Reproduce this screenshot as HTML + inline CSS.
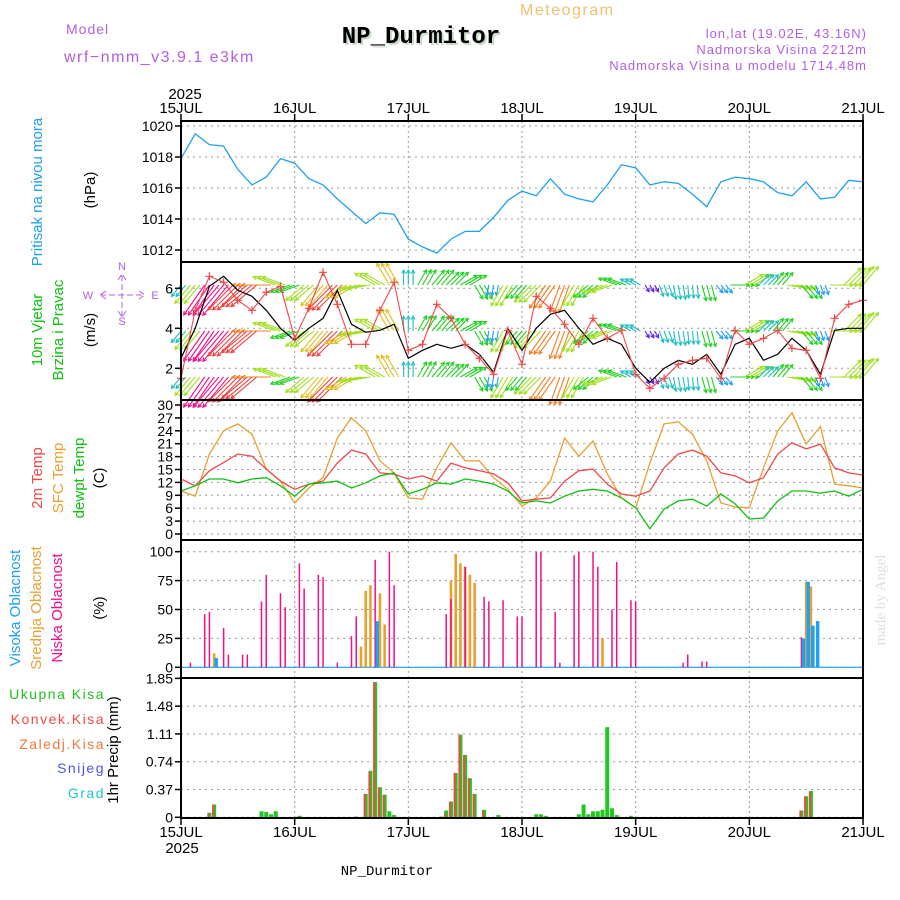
<!DOCTYPE html>
<html><head><meta charset="utf-8"><style>
html,body{margin:0;padding:0;background:#fff;}
svg{display:block;font-family:"Liberation Sans",sans-serif;}
</style></head><body>
<svg id="chart" width="900" height="900" viewBox="0 0 900 900" xmlns="http://www.w3.org/2000/svg">
<text x="520" y="15" fill="#f0c070" font-size="16" letter-spacing="1.5">Meteogram</text>
<text x="66" y="34" fill="#b060e0" font-size="14" letter-spacing="1">Model</text>
<text x="64" y="62" fill="#b060e0" font-size="16" letter-spacing="1.5">wrf−nmm_v3.9.1 e3km</text>
<text x="423" y="45" fill="#c8dcc8" font-size="24" font-weight="bold" text-anchor="middle" font-family="Liberation Mono,monospace">NP_Durmitor</text>
<text x="421" y="43" fill="#000" font-size="24" font-weight="bold" text-anchor="middle" font-family="Liberation Mono,monospace">NP_Durmitor</text>
<g fill="#b060e0" font-size="13" text-anchor="end" letter-spacing="1">
<text x="867" y="38">lon,lat (19.02E, 43.16N)</text>
<text x="867" y="54">Nadmorska Visina 2212m</text>
<text x="867" y="70">Nadmorska Visina u modelu 1714.48m</text>
</g>
<text x="387" y="875" font-size="14" font-family="Liberation Mono,monospace" fill="#000" text-anchor="middle">NP_Durmitor</text>
<text x="885" y="600" fill="#d8e4d8" font-size="15" font-family="Liberation Serif,serif" text-anchor="middle" transform="rotate(-90 885 600)">made by Angel</text>

<g font-size="15" text-anchor="middle">
<text x="42" y="192" fill="#20a0f0" transform="rotate(-90 42 192)">Pritisak na nivou mora</text>
<text x="95" y="190" fill="#000" transform="rotate(-90 95 190)">(hPa)</text>
<text x="42" y="330" fill="#10c010" transform="rotate(-90 42 330)">10m Vjetar</text>
<text x="63" y="330" fill="#10c010" transform="rotate(-90 63 330)">Brzina i Pravac</text>
<text x="95" y="330" fill="#000" transform="rotate(-90 95 330)">(m/s)</text>
<text x="42" y="478" fill="#f04848" transform="rotate(-90 42 478)">2m Temp</text>
<text x="63" y="478" fill="#e8a030" transform="rotate(-90 63 478)">SFC Temp</text>
<text x="84" y="478" fill="#10c010" transform="rotate(-90 84 478)">dewpt Temp</text>
<text x="104" y="478" fill="#000" transform="rotate(-90 104 478)">(C)</text>
<text x="20" y="608" fill="#20a0f0" transform="rotate(-90 20 608)">Visoka Oblacnost</text>
<text x="41" y="608" fill="#e8a030" transform="rotate(-90 41 608)">Srednja Oblacnost</text>
<text x="62" y="608" fill="#f0108a" transform="rotate(-90 62 608)">Niska Oblacnost</text>
<text x="104" y="608" fill="#000" transform="rotate(-90 104 608)">(%)</text>
<text x="118" y="750" fill="#000" transform="rotate(-90 118 750)">1hr Precip (mm)</text>
</g>
<g font-size="14" text-anchor="end" letter-spacing="1.5">
<text x="105" y="699" fill="#20c020">Ukupna Kisa</text>
<text x="105" y="724" fill="#f04848">Konvek.Kisa</text>
<text x="105" y="749" fill="#f07838">Zaledj.Kisa</text>
<text x="105" y="773" fill="#5050f0">Snijeg</text>
<text x="105" y="798" fill="#20c8c8">Grad</text>
</g>
<g fill="#b060e0" font-size="11" text-anchor="middle">
<text x="122" y="270">N</text><text x="122" y="325">S</text><text x="88" y="299">W</text><text x="155" y="299">E</text>
<path d="M122 275 V317 M100 295 H145 M118 280 L122 274 L126 280 M118 311 L122 317 L126 311 M106 291 L100 295 L106 299 M139 291 L145 295 L139 299" stroke="#b060e0" stroke-width="1" fill="none" stroke-dasharray="6 3"/>
</g>
<g id="grid"></g>
<g id="marks"></g>
<g id="frames"></g>
<g id="axes"></g>
</svg>
<script>
// ---- data (3-hourly from 15JUL 00 to 21JUL 00) ----
const dayLabels = ["15JUL","16JUL","17JUL","18JUL","19JUL","20JUL","21JUL"];
const pressure = [1017.9,1019.5,1018.8,1018.7,1017.2,1016.2,1016.7,1017.9,1017.6,1016.6,1016.2,1015.3,1014.5,1013.7,1014.4,1014.3,1012.7,1012.2,1011.8,1012.7,1013.2,1013.2,1014.1,1015.2,1015.8,1015.5,1016.6,1015.6,1015.3,1015.1,1016.2,1017.5,1017.3,1016.2,1016.4,1016.3,1015.6,1014.8,1016.4,1016.7,1016.6,1016.4,1015.7,1015.5,1016.4,1015.3,1015.4,1016.5,1016.4];
const windSpeed = [2.5,4,6.1,6.6,5.9,5.6,4.9,4,3.4,4,4.5,5.9,4.2,3.8,3.9,4.2,2.5,2.9,3.2,3,3.2,2.7,1.8,4,2.9,4,4.7,4.9,4,3.2,3.5,3.2,2,1.3,2,2.4,2.2,2.7,1.7,3.2,3.5,2.4,2.7,3.5,2.9,1.7,3.9,4,4];
const windGust = [1.5,4.9,6.6,6.3,5.4,4.9,5.8,6.1,3.5,5,6.8,5.2,3.2,3.2,4.9,6.3,2.9,3.2,5.2,4.5,3.2,2.5,1.7,3.9,2.2,5.6,5,4.2,3.2,4.5,3.5,3.9,1.7,1,1.5,2.2,2.4,2.5,1.5,3.9,3.2,3.5,3.9,3,2.9,1.5,4.5,5.2,5.4];
const windToward = [220,220,215,220,225,230,270,290,250,230,220,225,240,260,300,330,0,30,40,45,60,150,190,210,220,225,215,200,210,230,250,290,300,150,160,170,175,165,140,90,60,45,40,100,140,160,90,45,40];
const temp2m = [12.8,11.2,14.7,16.6,18.6,18.1,15.1,12.3,10.4,11.6,12.3,16.5,19.5,18.6,14.2,13.9,12.8,13.5,12.3,16.5,15.4,14.7,14,11.9,7.7,8.1,8.4,12.3,14.7,15.1,11.6,9.3,8.8,10,15.4,18.6,19.5,18.1,14.2,13.5,11.9,13.1,18.6,21.2,19.8,20.9,15.4,14.2,13.7];
const tempSfc = [10,8.8,18.6,24,25.6,23.2,15.1,12.3,7.2,10.7,13.1,22.3,27,24,17,14.2,8.4,8.1,15.4,21.2,17,17,13.1,10.4,6.5,8.4,12.3,22.3,18.1,21.6,14,8.4,6.1,16.5,25.6,26.1,23.2,17,7.2,6.3,6.1,15.4,24,28.2,20.9,25,11.6,11.2,10.7];
const dewpt = [10,11.2,12.8,12.8,11.9,12.8,13.1,11.2,8.8,11.6,11.9,12.3,10.7,11.9,13.5,14.2,9.3,10.4,11.9,11.6,12.8,12.3,11.6,10,7.2,7.7,7.2,8.8,10,10.4,10,8.4,6.1,1.2,5.8,7.7,8.1,6.5,9.3,7,3.5,3.7,7.7,10,10,9.5,10,8.8,10.4];
// clouds: hour index, percent
const lowHours = [2,5,6,9,10,13,14,17,18,21,22,25,26,29,30,33,36,37,41,44,45,56,57,60,64,65,68,71,72,75,76,79,80,83,84,87,88,91,92,95,96,106,107,110,111,131];
const lowVals  = [4,46,48,34,11,11,11,57,80,64,52,90,68,80,78,4,27,44,93,100,71,46,59,87,61,57,58,44,44,100,100,48,4,97,100,100,87,50,91,58,57,4,11,5,5,26];
const midHours = [7,38,39,40,42,43,57,58,59,60,61,62,89,132,133];
const midVals  = [12,18,66,71,64,37,75,98,90,87,80,73,25,74,70];
const highHours = [7,41,131,132,133,134];
const highVals  = [8,40,25,74,36,40];
// precipitation: hour, total, convective
const prHours = [6,7,17,18,19,20,25,37,39,40,41,42,43,44,45,55,56,57,58,59,60,61,62,64,67,75,76,77,84,85,86,87,88,89,90,91,92,95,131,132,133];
const prTotal = [0.06,0.17,0.08,0.07,0.04,0.08,0.02,0.01,0.31,0.62,1.80,0.40,0.30,0.08,0.03,0.01,0.09,0.21,0.59,1.10,0.83,0.52,0.31,0.10,0.03,0.04,0.04,0.02,0.04,0.17,0.04,0.08,0.08,0.10,1.20,0.12,0.03,0.02,0.09,0.28,0.35];
const prConv  = [0.05,0.17,0,0,0,0,0,0.01,0.31,0.60,1.80,0.40,0.30,0,0,0.01,0.05,0.21,0.59,1.10,0.83,0.52,0.31,0.08,0,0,0,0,0,0,0,0,0,0,0,0,0,0,0.09,0.28,0.33];
const pTicks=[1012,1014,1016,1018,1020], wTicks=[2,4,6], tTicks=[0,3,6,9,12,15,18,21,24,27,30], cTicks=[0,25,50,75,100], prTicks=[0,0.37,0.74,1.11,1.48,1.85];

const NS="http://www.w3.org/2000/svg";
const X0=181, X1=863, HOURS=144;
const xH=h=>X0+h*(X1-X0)/HOURS;
const x3=i=>xH(i*3);
const yP=v=>126+(1020-v)*15.5;
const yW=v=>408.3-20*v;
const yT=v=>534-4.3*v;
const yC=v=>667.3-1.156*v;
const yR=v=>817.3-75.1*v;
const panels=[[121,262],[262,400],[400,540],[540,678],[678,818]];
function mk(tag,attrs,parent){const e=document.createElementNS(NS,tag);for(const k in attrs)e.setAttribute(k,attrs[k]);parent.appendChild(e);return e;}
const grid=document.getElementById('grid'),marks=document.getElementById('marks'),frames=document.getElementById('frames'),axes=document.getElementById('axes');

for(let d=1;d<6;d++){const l=mk('line',{x1:xH(d*24),x2:xH(d*24),y1:121,y2:818,stroke:'#999','stroke-dasharray':'2 3','stroke-width':1},grid);

}
function hgrid(ticks,yf,labels,name){ticks.forEach((t,i)=>{
 const g=mk('line',{x1:X0,x2:X1,y1:yf(t),y2:yf(t),stroke:'#999','stroke-dasharray':'2 4','stroke-width':1},grid);
 
 
 mk('line',{x1:X0-6,x2:X0,y1:yf(t),y2:yf(t),stroke:'#000','stroke-width':1.5},axes);
 const tx=mk('text',{x:X0-8,y:yf(t)+5,'font-size':14,'text-anchor':'end',fill:'#000'},axes);
 tx.textContent=labels?labels[i]:t;
 
 });}
hgrid(pTicks,yP,null,'pressure');
hgrid(wTicks,yW,null,'wind');
hgrid(tTicks,yT,null,'temp');
hgrid(cTicks,yC,null,'cloud');
hgrid(prTicks,yR,prTicks.map(v=>v===0?'0':v.toFixed(2)),'precip');

function line(arr,yf,color,name,w){const pts=arr.map((v,i)=>x3(i).toFixed(1)+','+yf(v).toFixed(1)).join(' ');
 const p=mk('polyline',{points:pts,fill:'none',stroke:color,'stroke-width':w||1.3},marks);
 
 }

function wcol(s){return s>6?'#f0108a':s>5?'#f04040':s>4.5?'#f08020':s>4?'#e0c020':s>3.4?'#a0e020':s>2.6?'#20d020':s>1.8?'#20c0c0':s>1.4?'#20a0f0':'#6020e0';}
[285,331,377].forEach(base=>{
 for(let h=0;h<=HOURS;h++){const i=Math.round(h/3);const s=windSpeed[i],a=windToward[i]*Math.PI/180;
  const L=6*s, x=xH(h), dx=Math.sin(a)*L, dy=-Math.cos(a)*L;
  const ar=mk('path',{d:`M${x} ${base} l${dx.toFixed(1)} ${dy.toFixed(1)} m${(-Math.sin(a-0.5)*4).toFixed(1)} ${(Math.cos(a-0.5)*4).toFixed(1)} l${(Math.sin(a-0.5)*4).toFixed(1)} ${(-Math.cos(a-0.5)*4).toFixed(1)} l${(-Math.sin(a+0.5)*4).toFixed(1)} ${(Math.cos(a+0.5)*4).toFixed(1)}`,stroke:wcol(s),'stroke-width':1.1,fill:'none'},marks);
  
  }
});
line(pressure,yP,'#20a0f0','pressure-line',1.3);
line(windSpeed,yW,'#000','wind-speed-line',1.2);
line(windGust,yW,'#f04848','wind-gust-line',1.1);
windGust.forEach((v,i)=>{const c=mk('path',{d:`M${x3(i)-4} ${yW(v)} h8 M${x3(i)} ${yW(v)-4} v8`,stroke:'#f04848','stroke-width':1.2},marks);
 
 });
line(tempSfc,yT,'#e8a030','sfc-temp-line',1.3);
line(temp2m,yT,'#f04848','temp-2m-line',1.3);
line(dewpt,yT,'#10c010','dewpoint-line',1.3);

const cz=mk('line',{x1:X0,x2:X1,y1:yC(0),y2:yC(0),stroke:'#20a0f0','stroke-width':1.2},marks);


function bars(hs,vs,yf,color,w,off,name){hs.forEach((h,i)=>{const y=yf(vs[i]);
 const r=mk('rect',{x:xH(h)+off-w/2,y:y,width:w,height:Math.max(0,yf(0)-y),fill:color},marks);
 
 });}
bars(midHours,midVals,yC,'#e8a030',2.6,0,'mid-cloud-bar');
bars(lowHours,lowVals,yC,'#f0108a',1.5,0,'low-cloud-bar');
bars(highHours,highVals,yC,'#20a0f0',3.5,2,'high-cloud-bar');
bars(prHours,prTotal,yR,'#20c820',4,0,'total-precip-bar');
bars(prHours,prConv,yR,'#f04848',2,-1,'convective-precip-bar');

panels.forEach((p,i)=>{const r=mk('rect',{x:X0,y:p[0],width:X1-X0,height:p[1]-p[0],fill:'none',stroke:'#000','stroke-width':2},frames);
 
 });
dayLabels.forEach((d,i)=>{const x=xH(i*24);
 mk('line',{x1:x,x2:x,y1:114,y2:121,stroke:'#000','stroke-width':1.5},axes);
 mk('line',{x1:x,x2:x,y1:818,y2:825,stroke:'#000','stroke-width':1.5},axes);
 const t=mk('text',{x:x,y:113,'font-size':15,'text-anchor':'middle',fill:'#000'},axes);t.textContent=d;
 
 
 const b=mk('text',{x:x,y:837,'font-size':15,'text-anchor':'middle',fill:'#000'},axes);b.textContent=d;
 
 });
const y1=mk('text',{x:185,y:99,'font-size':15,'text-anchor':'middle',fill:'#000'},axes);y1.textContent='2025';


const y2=mk('text',{x:182,y:853,'font-size':15,'text-anchor':'middle',fill:'#000'},axes);y2.textContent='2025';


</script>
</body></html>
